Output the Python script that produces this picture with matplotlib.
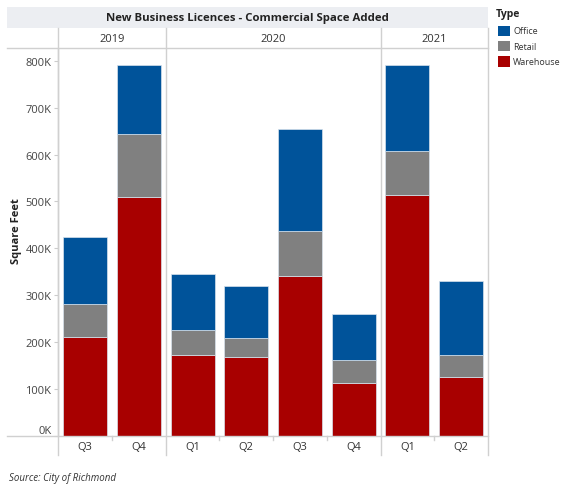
import matplotlib
matplotlib.use("Agg")
import matplotlib.pyplot as plt
from matplotlib.patches import Rectangle
from matplotlib.lines import Line2D
import numpy as np

plt.rcParams['font.family'] = ['Open Sans', 'DejaVu Sans']

years = ["2019", "2020", "2021"]
quarters_per_year = [["Q3", "Q4"], ["Q1", "Q2", "Q3", "Q4"], ["Q1", "Q2"]]
types = ["Warehouse", "Retail", "Office"]
warehouse = [212000, 509000, 173000, 168000, 340000, 114000, 514000, 125000]
retail = [69000, 135000, 52000, 40000, 97000, 48000, 94000, 48000]
office = [143000, 146000, 120000, 112000, 218000, 99000, 182000, 157000]
colors = {"Office": "#00539a", "Retail": "#808080", "Warehouse": "#a80000"}
yticks = [0, 100000, 200000, 300000, 400000, 500000, 600000, 700000, 800000]
ytick_labels = ["0K", "100K", "200K", "300K", "400K", "500K", "600K", "700K", "800K"]

W, H = 561, 485
fig = plt.figure(figsize=(W / 100, H / 100), dpi=100)


def fx(px):
    return px / W


def fy(py):
    return 1 - py / H


# plot area
ax_l, ax_r, ax_t, ax_b = 58.3, 488.0, 49.0, 437.0
ax = fig.add_axes([fx(ax_l), fy(ax_b), fx(ax_r - ax_l), (ax_b - ax_t) / H])

series = {"Warehouse": warehouse, "Retail": retail, "Office": office}
n = len(warehouse)
x = np.arange(n) + 0.5
bottom = np.zeros(n)
for t in types:
    vals = np.array(series[t], dtype=float)
    ax.bar(x, vals, bottom=bottom, width=0.82, color=colors[t],
           edgecolor="#d8e2ec", linewidth=0.5)
    bottom += vals

ax.set_xlim(0, n)
ax.set_ylim(0, 827000)
ax.set_yticks(yticks)
ax.set_yticklabels(ytick_labels, fontsize=8, color="#444444")
ax.get_yticklabels()[0].set_va("bottom")
ax.tick_params(axis="y", length=3, color="#cccccc", pad=2)
ax.set_xticks([])
for s in ["top", "right", "bottom"]:
    ax.spines[s].set_visible(False)
ax.spines["left"].set_color("#d0d0d0")
ax.spines["left"].set_linewidth(1.0)

fig.text(fx(17), fy(231), "Square Feet", rotation=90, ha="center", va="center",
         fontsize=8, fontweight="bold", color="#222222")

# title band
fig.add_artist(Rectangle((fx(7), fy(29)), fx(488 - 7), (29 - 8) / H,
                         facecolor="#eceef2", edgecolor="none", transform=fig.transFigure))
fig.text(fx((7 + 488) / 2), fy(18.5), "New Business Licences - Commercial Space Added",
         ha="center", va="center", fontsize=8.2, fontweight="bold", color="#222222")

line_c = "#d0d0d0"
# header bottom line and x-axis line
fig.add_artist(Line2D([fx(7), fx(488)], [fy(49), fy(49)], color=line_c, lw=1.0))
fig.add_artist(Line2D([fx(7), fx(488)], [fy(437), fy(437)], color=line_c, lw=1.0))

# year panels
slot = (ax_r - ax_l) / n
start = 0
for yr, qs in zip(years, quarters_per_year):
    x0 = ax_l + start * slot
    x1 = ax_l + (start + len(qs)) * slot
    fig.text(fx((x0 + x1) / 2), fy(40), yr, ha="center", va="center",
             fontsize=8, color="#333333")
    for i, q in enumerate(qs):
        cx = x0 + (i + 0.5) * slot
        fig.text(fx(cx), fy(448), q, ha="center", va="center", fontsize=8, color="#333333")
        if i > 0:
            bx = x0 + i * slot
            fig.add_artist(Line2D([fx(bx), fx(bx)], [fy(437), fy(441)], color=line_c, lw=1.0))
    start += len(qs)

# panel dividers
boundaries = [0, 2, 6, 8]
for b in boundaries:
    bx = ax_l + b * slot
    fig.add_artist(Line2D([fx(bx), fx(bx)], [fy(29), fy(456)], color=line_c, lw=1.0))

# legend
fig.text(fx(496), fy(14), "Type", ha="left", va="center", fontsize=7.5,
         fontweight="bold", color="#222222")
for i, t in enumerate(["Office", "Retail", "Warehouse"]):
    cy = 31.5 + i * 15.5
    fig.add_artist(Rectangle((fx(498), fy(cy + 5)), fx(12), 10 / H,
                             facecolor=colors[t], edgecolor="none", transform=fig.transFigure))
    fig.text(fx(513), fy(cy), t, ha="left", va="center", fontsize=6.5, color="#333333")

fig.text(fx(9), fy(479), "Source: City of Richmond", ha="left", va="center",
         fontsize=7, style="italic", color="#333333")

fig.savefig("out.png", dpi=100)
